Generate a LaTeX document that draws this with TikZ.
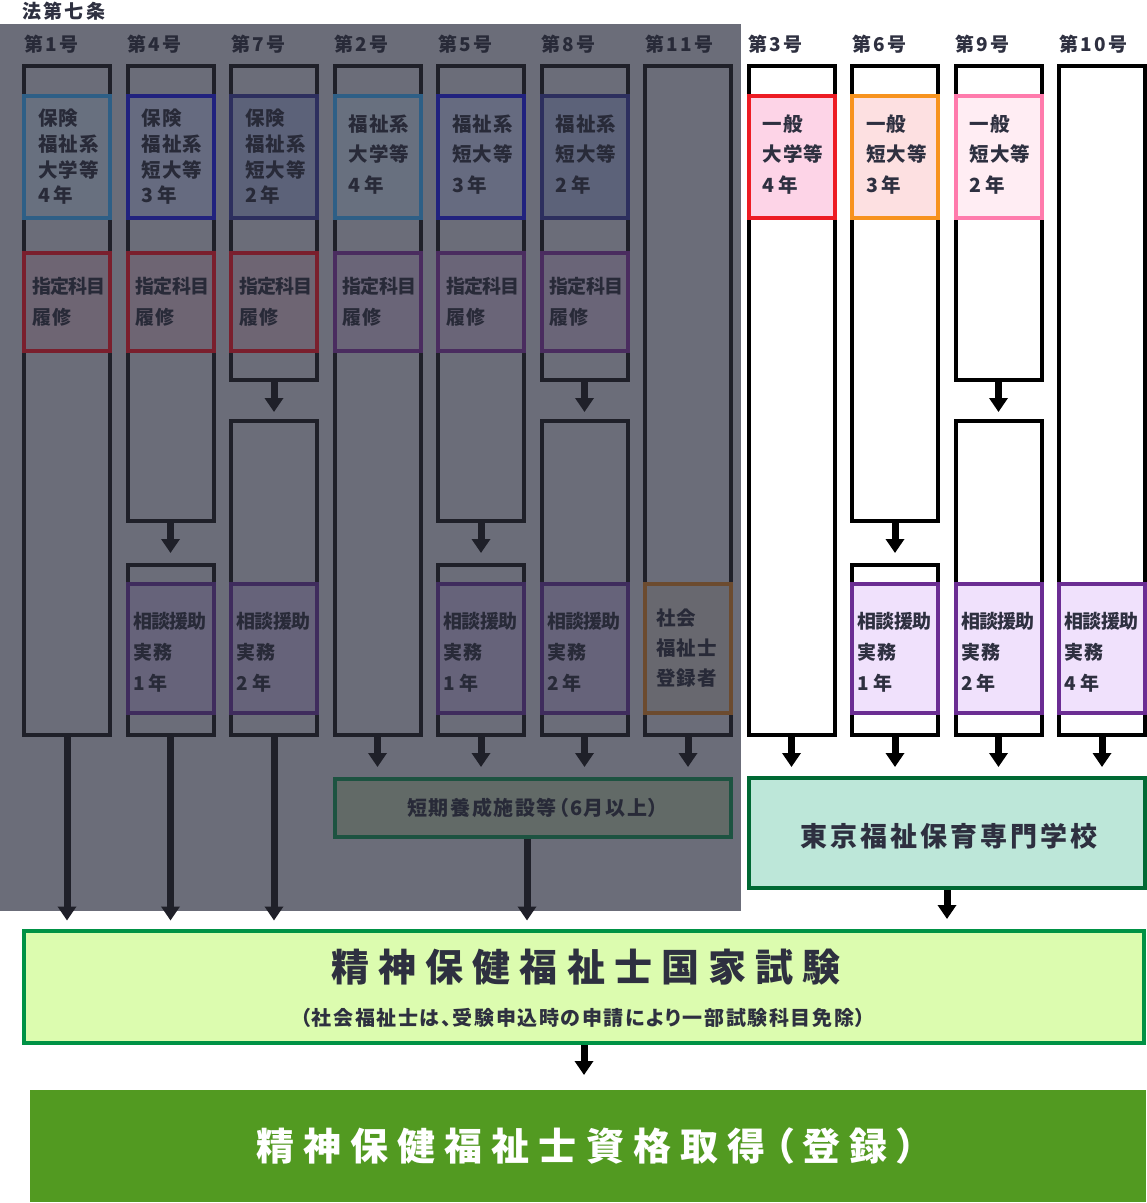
\documentclass[tikz,border=0pt]{standalone}
\usepackage{fontspec}
\setmainfont{Noto Sans CJK JP}
\newfontfamily\fLab{Noto Sans CJK JP}[LetterSpace=12]
\newfontfamily\fBox{Noto Sans CJK JP}[LetterSpace=6]
\newfontfamily\fTight{Noto Sans CJK JP}[LetterSpace=-4]
\newfontfamily\fMid{Noto Sans CJK JP}[LetterSpace=8,RawFeature={+palt}]
\newfontfamily\fSchool{Noto Sans CJK JP}[LetterSpace=11]
\newfontfamily\fBig{Noto Sans CJK JP}[LetterSpace=24,RawFeature={+palt}]
\usetikzlibrary{arrows.meta}
\newcommand\tightjp[1]{{\fTight\bfseries #1}}
\newcommand\nenjp[1]{#1\kern4pt 年}
\newcommand\upjp{\rule[-7pt]{0pt}{0pt}}
\newcommand\downjp{\rule{0pt}{24pt}}

\definecolor{dimbg}{HTML}{6B6D79}
\definecolor{dimline}{HTML}{1F2029}
\definecolor{dimtext}{HTML}{282A38}
\definecolor{dimBlueA}{HTML}{2E5F86}
\definecolor{dimBlueAfill}{HTML}{68707F}
\definecolor{dimBlueB}{HTML}{21227E}
\definecolor{dimBlueBfill}{HTML}{666B80}
\definecolor{dimNavy}{HTML}{2D2F5E}
\definecolor{dimNavyfill}{HTML}{5C6279}
\definecolor{dimRed}{HTML}{7A1F2D}
\definecolor{dimRedfill}{HTML}{6E6573}
\definecolor{dimPurp}{HTML}{4A2C5F}
\definecolor{dimPurpfill}{HTML}{6A6578}
\definecolor{dimPrac}{HTML}{3F2C5D}
\definecolor{dimPracfill}{HTML}{66637A}
\definecolor{dimBrown}{HTML}{6C4B2F}
\definecolor{dimBrownfill}{HTML}{68686F}
\definecolor{dimGreen}{HTML}{1D5341}
\definecolor{dimGreenfill}{HTML}{626A67}
\definecolor{labtext}{HTML}{2E3040}
\definecolor{genRed}{HTML}{ED1C24}
\definecolor{genRedfill}{HTML}{FDD4E7}
\definecolor{genOrange}{HTML}{F7931E}
\definecolor{genOrangefill}{HTML}{FDE0E1}
\definecolor{genPink}{HTML}{FF7BAC}
\definecolor{genPinkfill}{HTML}{FFEDF3}
\definecolor{pracPurp}{HTML}{6B2D93}
\definecolor{pracfill}{HTML}{F0E1FC}
\definecolor{tokyoLine}{HTML}{006934}
\definecolor{tokyoFill}{HTML}{BDE7D9}
\definecolor{examLine}{HTML}{009245}
\definecolor{examFill}{HTML}{DCFCAF}
\definecolor{finalFill}{HTML}{529A21}

\begin{document}
\begin{tikzpicture}[x=1pt,y=-1pt,
  colbox/.style={draw=#1, line width=4pt, minimum width=86pt, inner sep=0pt, anchor=north},
  tagbox/.style 2 args={draw=#1, fill=#2, line width=4pt, minimum width=86pt, inner sep=0pt, anchor=north, align=left},
  course4/.style={minimum height=122pt, text width=58pt, font=\fontsize{19.5}{25.7}\fBox\bfseries},
  course3/.style={minimum height=122pt, text width=58pt, font=\fontsize{19.5}{30.5}\fBox\bfseries},
  subj/.style={minimum height=98pt, text width=70pt, font=\fontsize{19}{31}\fBox\bfseries},
  prac/.style={minimum height=129pt, text width=75pt, font=\fontsize{19}{31}\fBox\bfseries},
  dimtxt/.style={text=dimtext},
  brtxt/.style={text=labtext},
  collabel/.style={anchor=west, inner sep=0pt, font=\fontsize{19}{19}\fLab\bfseries},
  arr/.style={line width=7pt, -{Triangle[width=18pt,length=14pt]}},
  dimarr/.style={arr, draw=dimline},
  blkarr/.style={arr, draw=black},
]
\useasboundingbox (0,0) rectangle (1147,1203);

% dimmed region (法第七条)
\fill[dimbg] (0,24) rectangle (741,911);
\node[collabel, text=labtext] (title) at (22,11) {法第七条};

% column labels
\node[collabel, dimtxt] (l1) at (24,44) {第1号};
\node[collabel, dimtxt] (l2) at (127.5,44) {第4号};
\node[collabel, dimtxt] (l3) at (231,44) {第7号};
\node[collabel, dimtxt] (l4) at (334.5,44) {第2号};
\node[collabel, dimtxt] (l5) at (438,44) {第5号};
\node[collabel, dimtxt] (l6) at (541.5,44) {第8号};
\node[collabel, dimtxt] (l7) at (645,44) {第11号};
\node[collabel, brtxt] (l8) at (748.5,44) {第3号};
\node[collabel, brtxt] (l9) at (852,44) {第6号};
\node[collabel, brtxt] (l10) at (955.5,44) {第9号};
\node[collabel, brtxt] (l11) at (1059,44) {第10号};

% ---- column 1 (第1号)
\node[colbox=dimline, minimum height=669pt] (c1) at (67,64) {};
\node[tagbox={dimBlueA}{dimBlueAfill}, course4, dimtxt] (k1) at (67,94) {保険\\福祉系\\大学等\\\nenjp{4}};
\node[tagbox={dimRed}{dimRedfill}, subj, dimtxt] (s1) at (67,251) {\tightjp{指定科目}\\履修};

% ---- column 2 (第4号)
\node[colbox=dimline, minimum height=455pt] (c2a) at (170.5,64) {};
\node[colbox=dimline, minimum height=170pt] (c2b) at (170.5,563) {};
\node[tagbox={dimBlueB}{dimBlueBfill}, course4, dimtxt] (k2) at (170.5,94) {保険\\福祉系\\短大等\\\nenjp{3}};
\node[tagbox={dimRed}{dimRedfill}, subj, dimtxt] (s2) at (170.5,251) {\tightjp{指定科目}\\履修};
\node[tagbox={dimPrac}{dimPracfill}, prac, dimtxt] (p2) at (170.5,582) {\downjp\tightjp{相談援助}\\実務\\\nenjp{1}};

% ---- column 3 (第7号)
\node[colbox=dimline, minimum height=314pt] (c3a) at (274,64) {};
\node[colbox=dimline, minimum height=314pt] (c3b) at (274,419) {};
\node[tagbox={dimNavy}{dimNavyfill}, course4, dimtxt] (k3) at (274,94) {保険\\福祉系\\短大等\\\nenjp{2}};
\node[tagbox={dimRed}{dimRedfill}, subj, dimtxt] (s3) at (274,251) {\tightjp{指定科目}\\履修};
\node[tagbox={dimPrac}{dimPracfill}, prac, dimtxt] (p3) at (274,582) {\downjp\tightjp{相談援助}\\実務\\\nenjp{2}};

% ---- column 4 (第2号)
\node[colbox=dimline, minimum height=669pt] (c4) at (377.5,64) {};
\node[tagbox={dimBlueA}{dimBlueAfill}, course3, dimtxt] (k4) at (377.5,94) {福祉系\\大学等\\\nenjp{4}\upjp};
\node[tagbox={dimPurp}{dimPurpfill}, subj, dimtxt] (s4) at (377.5,251) {\tightjp{指定科目}\\履修};

% ---- column 5 (第5号)
\node[colbox=dimline, minimum height=455pt] (c5a) at (481,64) {};
\node[colbox=dimline, minimum height=170pt] (c5b) at (481,563) {};
\node[tagbox={dimBlueB}{dimBlueBfill}, course3, dimtxt] (k5) at (481,94) {福祉系\\短大等\\\nenjp{3}\upjp};
\node[tagbox={dimPurp}{dimPurpfill}, subj, dimtxt] (s5) at (481,251) {\tightjp{指定科目}\\履修};
\node[tagbox={dimPrac}{dimPracfill}, prac, dimtxt] (p5) at (481,582) {\downjp\tightjp{相談援助}\\実務\\\nenjp{1}};

% ---- column 6 (第8号)
\node[colbox=dimline, minimum height=314pt] (c6a) at (584.5,64) {};
\node[colbox=dimline, minimum height=314pt] (c6b) at (584.5,419) {};
\node[tagbox={dimNavy}{dimNavyfill}, course3, dimtxt] (k6) at (584.5,94) {福祉系\\短大等\\\nenjp{2}\upjp};
\node[tagbox={dimPurp}{dimPurpfill}, subj, dimtxt] (s6) at (584.5,251) {\tightjp{指定科目}\\履修};
\node[tagbox={dimPrac}{dimPracfill}, prac, dimtxt] (p6) at (584.5,582) {\downjp\tightjp{相談援助}\\実務\\\nenjp{2}};

% ---- column 7 (第11号)
\node[colbox=dimline, minimum height=669pt] (c7) at (688,64) {};
\node[tagbox={dimBrown}{dimBrownfill}, minimum height=129pt, text width=64pt, font=\fontsize{19.5}{30}\fBox\bfseries, dimtxt] (t7) at (688,582) {社会\\福祉士\\登録者};

% ---- column 8 (第3号)
\node[colbox=black, minimum height=669pt] (c8) at (791.5,64) {};
\node[tagbox={genRed}{genRedfill}, course3, brtxt] (k8) at (791.5,94) {一般\\大学等\\\nenjp{4}\upjp};

% ---- column 9 (第6号)
\node[colbox=black, minimum height=455pt] (c9a) at (895,64) {};
\node[colbox=black, minimum height=170pt] (c9b) at (895,563) {};
\node[tagbox={genOrange}{genOrangefill}, course3, brtxt] (k9) at (895,94) {一般\\短大等\\\nenjp{3}\upjp};
\node[tagbox={pracPurp}{pracfill}, prac, brtxt] (p9) at (895,582) {\downjp\tightjp{相談援助}\\実務\\\nenjp{1}};

% ---- column 10 (第9号)
\node[colbox=black, minimum height=314pt] (c10a) at (998.5,64) {};
\node[colbox=black, minimum height=314pt] (c10b) at (998.5,419) {};
\node[tagbox={genPink}{genPinkfill}, course3, brtxt] (k10) at (998.5,94) {一般\\短大等\\\nenjp{2}\upjp};
\node[tagbox={pracPurp}{pracfill}, prac, brtxt] (p10) at (998.5,582) {\downjp\tightjp{相談援助}\\実務\\\nenjp{2}};

% ---- column 11 (第10号)
\node[colbox=black, minimum height=669pt] (c11) at (1102,64) {};
\node[tagbox={pracPurp}{pracfill}, prac, brtxt] (p11) at (1102,582) {\downjp\tightjp{相談援助}\\実務\\\nenjp{4}};

% ---- lower boxes
\node[draw=dimGreen, fill=dimGreenfill, line width=4pt, minimum width=396pt, minimum height=58pt, inner sep=0pt, anchor=north, font=\fontsize{20}{20}\fMid\bfseries, dimtxt] (short) at (533,777) {短期養成施設等（6月以上）};
\coordinate (sd) at ([xshift=-6pt]short.south);

\node[draw=tokyoLine, fill=tokyoFill, line width=4pt, minimum width=396pt, minimum height=110pt, inner sep=0pt, anchor=north] (tokyo) at (947,776) {};
\node[font=\fontsize{27}{27}\fSchool\bfseries, brtxt, inner sep=0pt] (tokyot) at (949,836) {東京福祉保育専門学校};

\node[draw=examLine, fill=examFill, line width=4pt, minimum width=1120pt, minimum height=112pt, inner sep=0pt, anchor=north] (exam) at (584,929) {};
\node[font=\fontsize{38}{38}\fBig\bfseries, brtxt, inner sep=0pt] (examt) at (586,967) {精神保健福祉士国家試験};
\node[font=\fontsize{20}{20}\fMid\bfseries, brtxt, inner sep=0pt] (exams) at (583,1018) {（社会福祉士は、受験申込時の申請により一部試験科目免除）};

\node[fill=finalFill, minimum width=1116pt, minimum height=112pt, inner sep=0pt, anchor=north] (final) at (588,1090) {};
\node[font=\fontsize{38}{38}\fBig\bfseries, text=white, inner sep=0pt] (finalt) at (586,1146) {精神保健福祉士資格取得（登録）};

% ---- arrows between split boxes
\draw[dimarr, shorten >=10pt] (c2a.south) -- (c2b.north);
\draw[dimarr, shorten >=7pt] (c3a.south) -- (c3b.north);
\draw[dimarr, shorten >=10pt] (c5a.south) -- (c5b.north);
\draw[dimarr, shorten >=7pt] (c6a.south) -- (c6b.north);
\draw[blkarr, shorten >=10pt] (c9a.south) -- (c9b.north);
\draw[blkarr, shorten >=7pt] (c10a.south) -- (c10b.north);

% ---- arrows to exam
\draw[dimarr, shorten >=8.5pt] (c1.south) -- (c1.south |- exam.north);
\draw[dimarr, shorten >=8.5pt] (c2b.south) -- (c2b.south |- exam.north);
\draw[dimarr, shorten >=8.5pt] (c3b.south) -- (c3b.south |- exam.north);

% ---- arrows to short course
\draw[dimarr, shorten >=10pt] (c4.south) -- (c4.south |- short.north);
\draw[dimarr, shorten >=10pt] (c5b.south) -- (c5b.south |- short.north);
\draw[dimarr, shorten >=10pt] (c6b.south) -- (c6b.south |- short.north);
\draw[dimarr, shorten >=10pt] (c7.south) -- (c7.south |- short.north);
\draw[dimarr, shorten >=8.5pt] (sd) -- (sd |- exam.north);

% ---- arrows to Tokyo school
\draw[blkarr, shorten >=9pt] (c8.south) -- (c8.south |- tokyo.north);
\draw[blkarr, shorten >=9pt] (c9b.south) -- (c9b.south |- tokyo.north);
\draw[blkarr, shorten >=9pt] (c10b.south) -- (c10b.south |- tokyo.north);
\draw[blkarr, shorten >=9pt] (c11.south) -- (c11.south |- tokyo.north);
\draw[blkarr, shorten >=10pt] (tokyo.south) -- (tokyo.south |- exam.north);

% ---- exam to registration
\draw[blkarr, shorten >=15pt] (exam.south) -- (exam.south |- final.north);
\end{tikzpicture}
\end{document}
